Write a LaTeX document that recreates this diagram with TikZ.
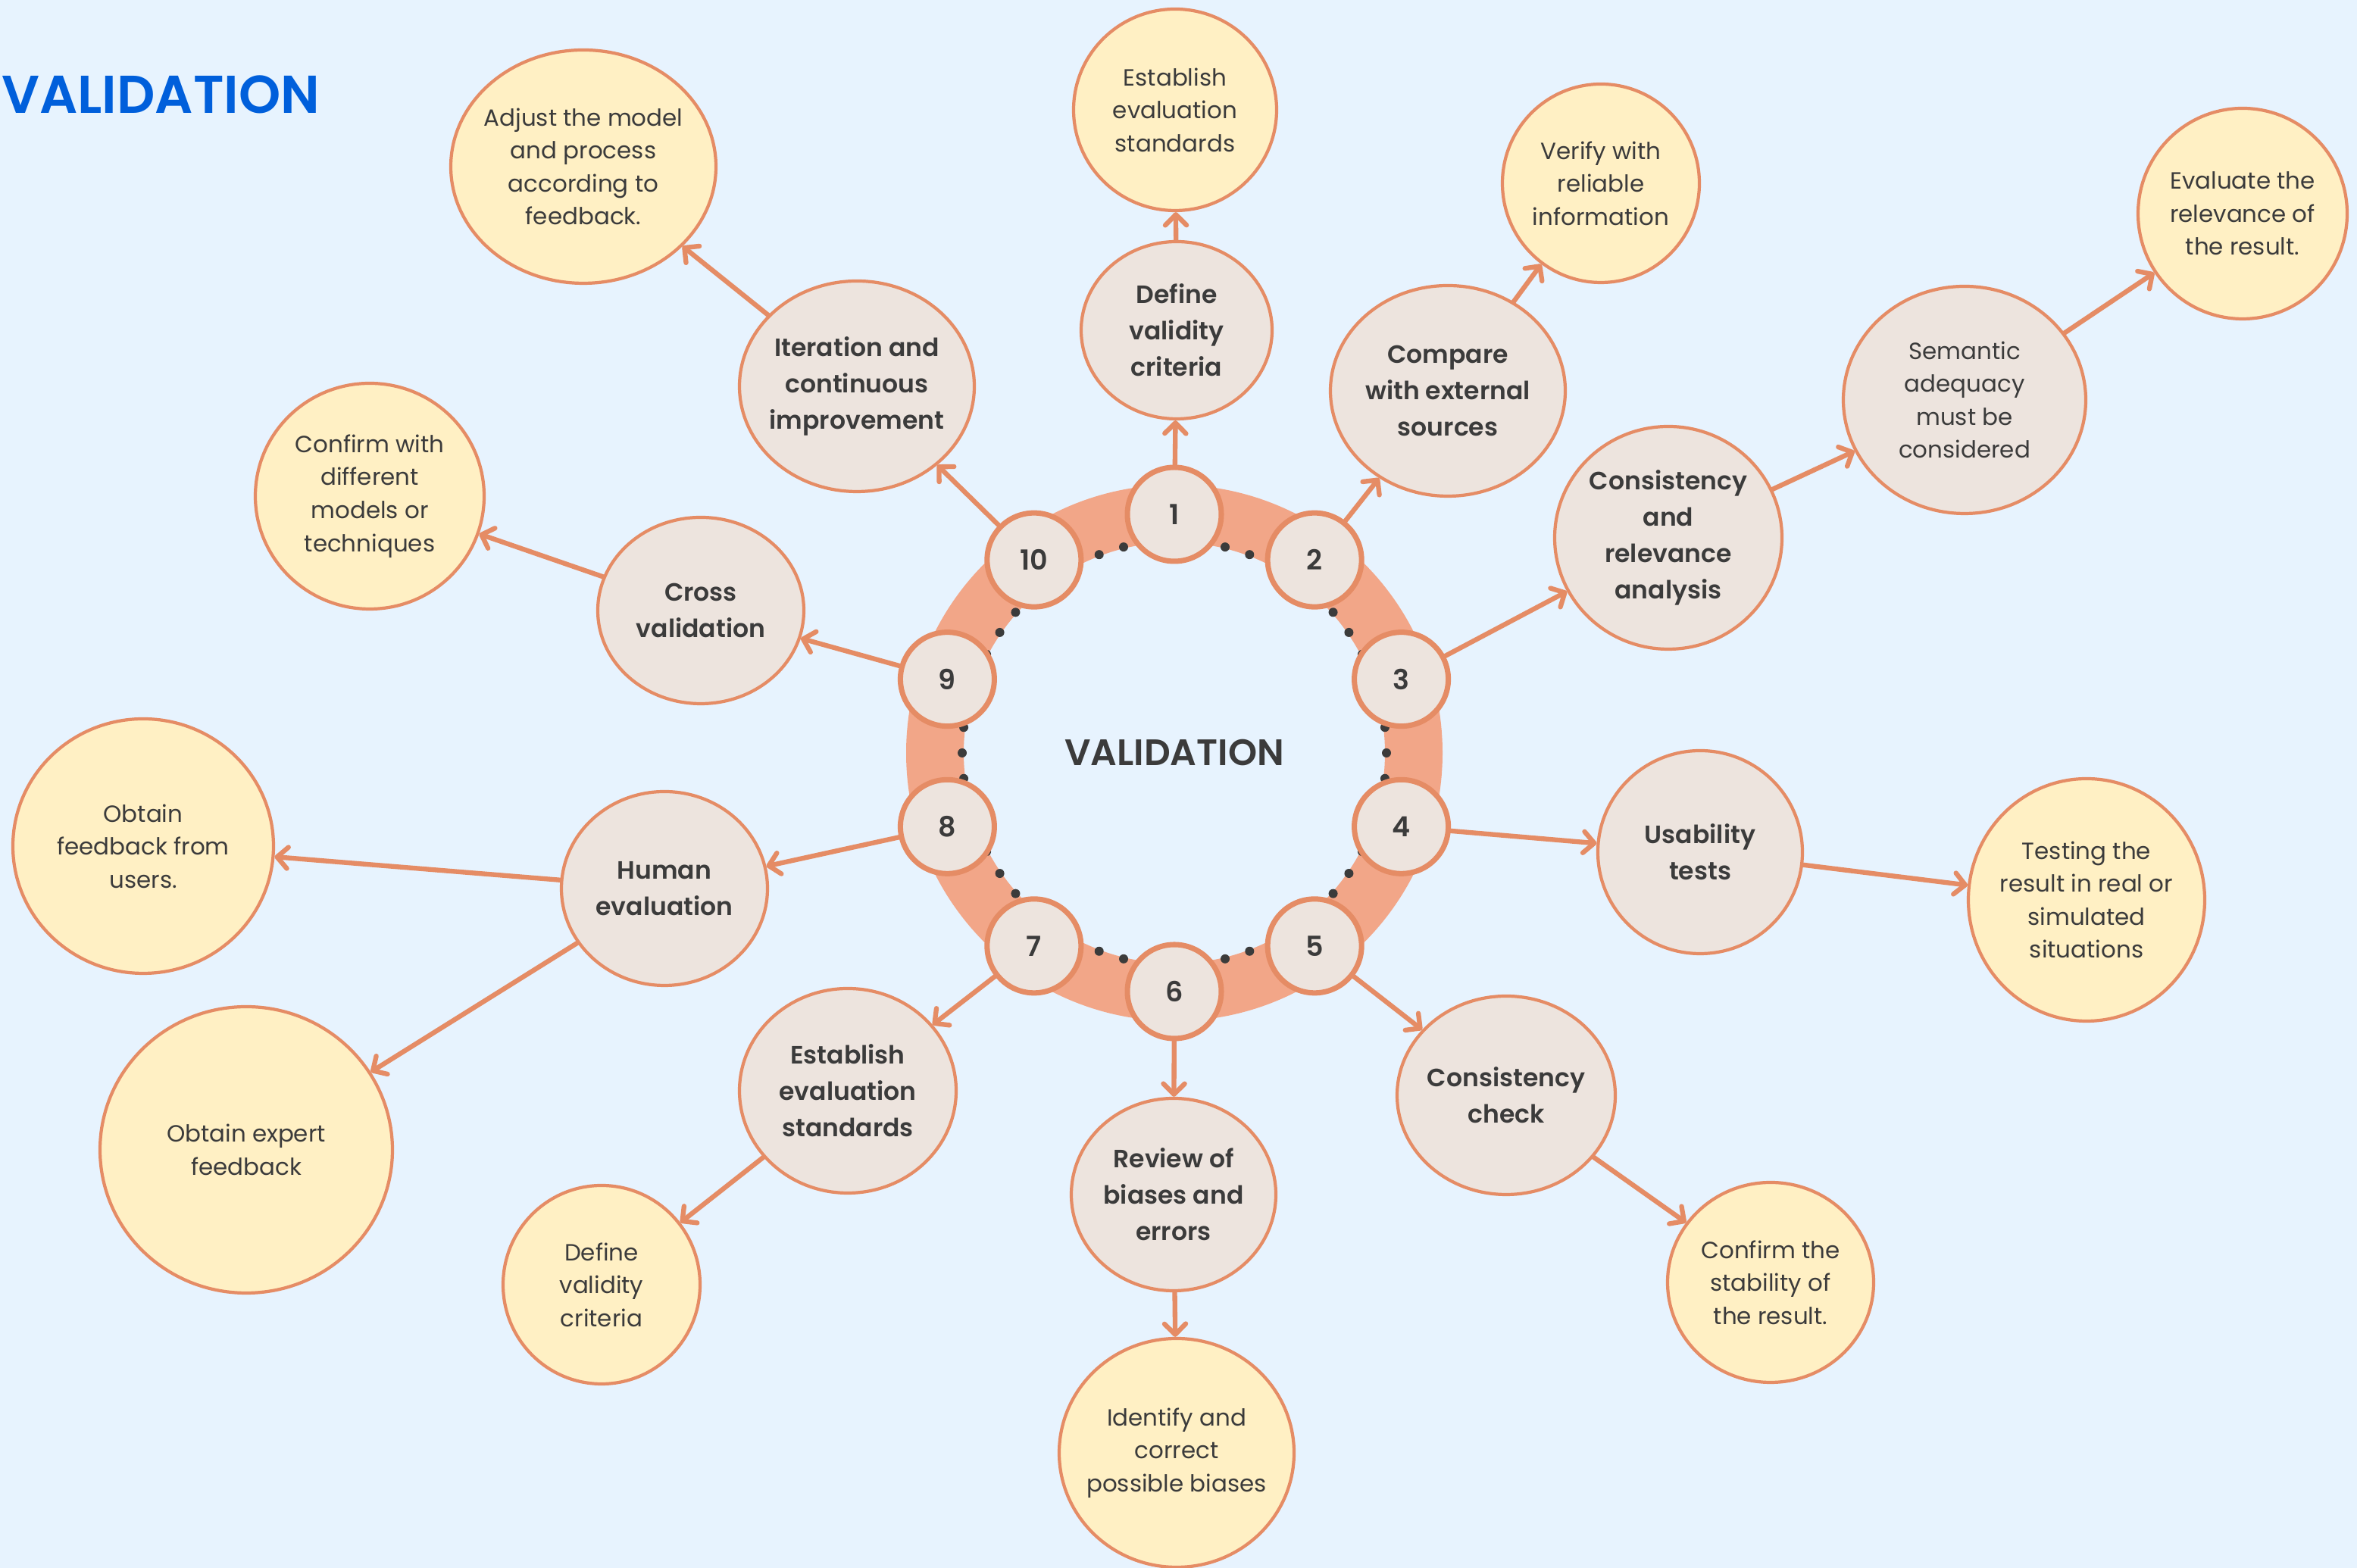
\documentclass[tikz,border=0pt]{standalone}
\usepackage{fontspec}
\setmainfont{Poppins}[BoldFont={* SemiBold}]
\usetikzlibrary{shapes.geometric,arrows.meta,calc}
\definecolor{bgblue}{HTML}{E7F3FE}
\definecolor{ringc}{HTML}{F2A688}
\definecolor{edgec}{HTML}{E58C65}
\definecolor{beige}{HTML}{EDE4DE}
\definecolor{cream}{HTML}{FFF0C4}
\definecolor{inkc}{HTML}{3B3B3B}
\definecolor{titleblue}{HTML}{005FDB}
\begin{document}
\begin{tikzpicture}[line cap=round, line join=round, text=inkc, >={Straight Barb[length=4pt,width=8pt,round]}]
	\tikzset{wh/.style 2 args={minimum width=#1cm, minimum height=#2cm},
		stepbox/.style={ellipse, draw=edgec, line width=1.2pt, fill=beige, inner sep=-0.4cm, align=center, font=\fontsize{9.4}{13.6}\selectfont\bfseries},
		leafbox/.style={ellipse, draw=edgec, line width=1.2pt, fill=cream, inner sep=-0.4cm, align=center, font=\fontsize{8.8}{12.4}\selectfont},
		hub/.style={circle, draw=edgec, line width=2pt, fill=beige, minimum size=1.24cm, inner sep=0pt, font=\fontsize{10.4}{12}\selectfont\bfseries},
		link/.style={->, draw=edgec, line width=1.8pt}}
	\fill[bgblue] (0,0) rectangle (31.11,20.70);
	\useasboundingbox (0,0) rectangle (31.11,20.70);
	\node[anchor=base west, text=titleblue, font=\fontsize{20}{24}\selectfont\bfseries] (title) at (-0.10,19.20) {VALIDATION};
	\coordinate (c) at (15.50,10.76);
	\draw[ringc, line width=0.76cm] (c) circle (3.16);
	\foreach \k in {0,...,51} \fill[inkc] ($(c)+({180-\k*6.923}:2.80)$) circle (0.06);
	\node[font=\fontsize{13.8}{16}\selectfont\bfseries] (main) at (c) {VALIDATION};
	\foreach \i in {1,...,10} \node[hub] (n\i) at ($(c)+({126-36*\i}:3.15)$) {\i};
	\node[stepbox, wh={2.52}{2.34}] (s1) at (15.53,16.34) {Define\\validity\\criteria};
	\node[leafbox, wh={2.68}{2.66}] (t1) at (15.51,19.25) {Establish\\evaluation\\standards};
	\node[stepbox, wh={3.10}{2.78}] (s2) at (19.11,15.54) {Compare\\with external\\sources};
	\node[leafbox, wh={2.60}{2.62}] (t2) at (21.13,18.28) {Verify with\\reliable\\information};
	\node[stepbox, wh={3.00}{2.94}] (s3) at (22.02,13.60) {Consistency\\and\\relevance\\analysis};
	\node[leafbox, fill=beige, wh={3.20}{3.00}] (u3) at (25.93,15.42) {Semantic\\adequacy\\must be\\considered};
	\node[leafbox, wh={2.76}{2.78}] (t3) at (29.60,17.88) {Evaluate the\\relevance of\\the result.};
	\node[stepbox, wh={2.70}{2.68}] (s4) at (22.44,9.45) {Usability\\tests};
	\node[leafbox, wh={3.12}{3.20}] (t4) at (27.54,8.82) {Testing the\\result in real or\\simulated\\situations};
	\node[stepbox, wh={2.88}{2.62}] (s5) at (19.88,6.24) {Consistency\\check};
	\node[leafbox, wh={2.72}{2.64}] (t5) at (23.37,3.77) {Confirm the\\stability of\\the result.};
	\node[stepbox, wh={2.70}{2.54}] (s6) at (15.49,4.93) {Review of\\biases and\\errors};
	\node[leafbox, wh={3.10}{3.02}] (t6) at (15.53,1.52) {Identify and\\correct\\possible biases};
	\node[stepbox, wh={2.86}{2.70}] (s7) at (11.19,6.30) {Establish\\evaluation\\standards};
	\node[leafbox, wh={2.60}{2.62}] (t7) at (7.94,3.74) {Define\\validity\\criteria};
	\node[stepbox, wh={2.72}{2.56}] (s8) at (8.77,8.97) {Human\\evaluation};
	\node[leafbox, wh={3.44}{3.36}] (t8) at (1.89,9.53) {Obtain\\feedback from\\users.};
	\node[leafbox, wh={3.86}{3.78}] (u8) at (3.25,5.52) {Obtain expert\\feedback};
	\node[stepbox, wh={2.72}{2.46}] (s9) at (9.25,12.64) {Cross\\validation};
	\node[leafbox, wh={3.02}{2.98}] (t9) at (4.88,14.15) {Confirm with\\different\\models or\\techniques};
	\node[stepbox, wh={3.10}{2.78}] (s10) at (11.31,15.60) {Iteration and\\continuous\\improvement};
	\node[leafbox, wh={3.50}{3.08}] (t10) at (7.70,18.50) {Adjust the model\\and process\\according to\\feedback.};
	\foreach \i in {1,...,10} \draw[link] (n\i) -- (s\i);
	\foreach \a/\b in {s1/t1, s2/t2, s3/u3, u3/t3, s4/t4, s5/t5, s6/t6, s7/t7, s8/t8, s8/u8, s9/t9, s10/t10}
		\draw[link] (\a) -- (\b);
\end{tikzpicture}
\end{document}
